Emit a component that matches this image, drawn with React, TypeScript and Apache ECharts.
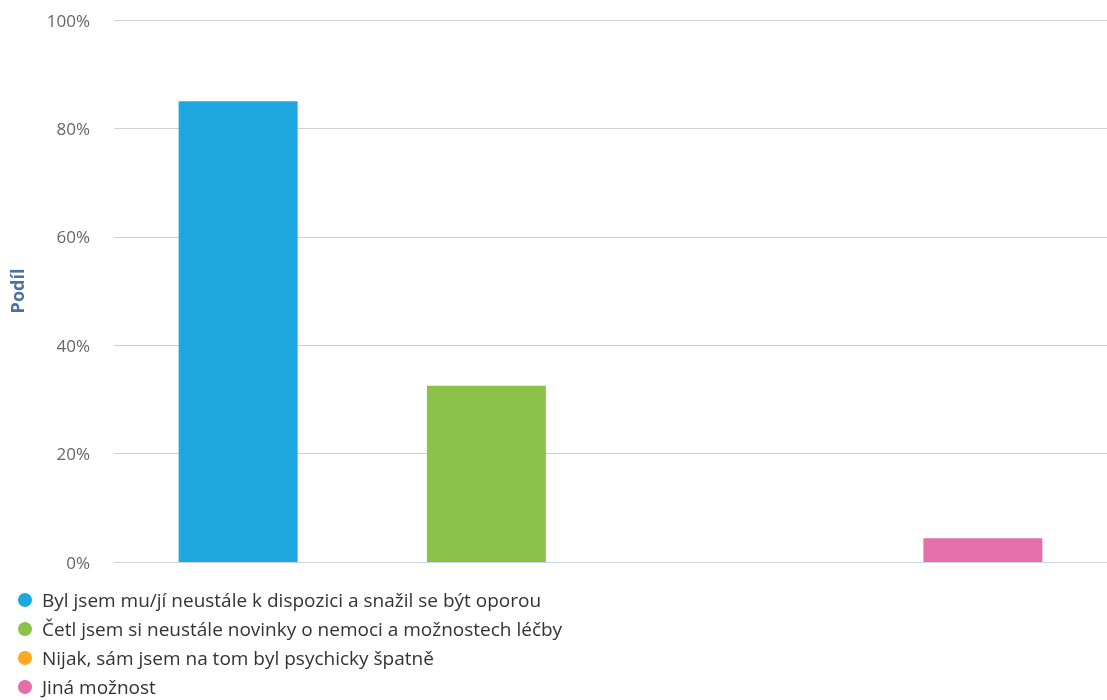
import React, { useEffect, useRef } from "react";
import * as echarts from "echarts";

const categories = ["A", "B", "C", "D"];
const seriesNames = [
  "Byl jsem mu/jí neustále k dispozici a snažil se být oporou",
  "Četl jsem si neustále novinky o nemoci a možnostech léčby",
  "Nijak, sám jsem na tom byl psychicky špatně",
  "Jiná možnost",
];
const seriesValues = [85, 32.5, 0, 4.4];
const seriesColors = ["#1fa8e0", "#8bc34a", "#ffa726", "#e56fa8"];
const yTicks = [0, 20, 40, 60, 80, 100];

export default function App() {
  const ref = useRef<HTMLDivElement>(null);
  useEffect(() => {
    const chart = echarts.init(ref.current!, null, { renderer: "svg" });
    chart.setOption({
      animation: false,
      grid: { left: 114, right: -2, top: 20, bottom: 138 },
      legend: {
        type: "plain",
        orient: "vertical",
        left: 13,
        top: 585,
        height: 120,
        padding: 5,
        icon: "circle",
        itemWidth: 14,
        itemHeight: 14,
        itemGap: 9,
        textStyle: { fontSize: 19, color: "#333", fontFamily: "Open Sans", lineHeight: 20, padding: [0, 0, 0, 5] },
        data: seriesNames,
      },
      xAxis: {
        type: "category",
        data: categories,
        axisLine: { lineStyle: { color: "#ccd6eb" } },
        axisTick: { alignWithLabel: true, length: 6, lineStyle: { color: "#ccd6eb" } },
        axisLabel: { show: false },
      },
      yAxis: {
        type: "value",
        min: yTicks[0],
        max: yTicks[yTicks.length - 1],
        interval: 20,
        name: "Podíl",
        nameLocation: "middle",
        nameGap: 88,
        nameTextStyle: { color: "#4a72a0", fontWeight: "bold", fontSize: 18, fontFamily: "Open Sans" },
        axisLabel: { formatter: "{value}%", color: "#666", fontSize: 17, margin: 24, fontFamily: "Open Sans" },
        splitLine: { lineStyle: { color: "#d0d0d0" } },
      },
      series: seriesNames.map((name, i) => ({
        name,
        type: "bar",
        stack: "all",
        barWidth: 119,
        itemStyle: { color: seriesColors[i] },
        data: categories.map((_, j) => (j === i ? seriesValues[i] : null)),
      })),
    });
    return () => chart.dispose();
  }, []);
  return <div ref={ref} style={{ position: "fixed", left: 0, top: 0, width: 1107, height: 700 }} />;
}
